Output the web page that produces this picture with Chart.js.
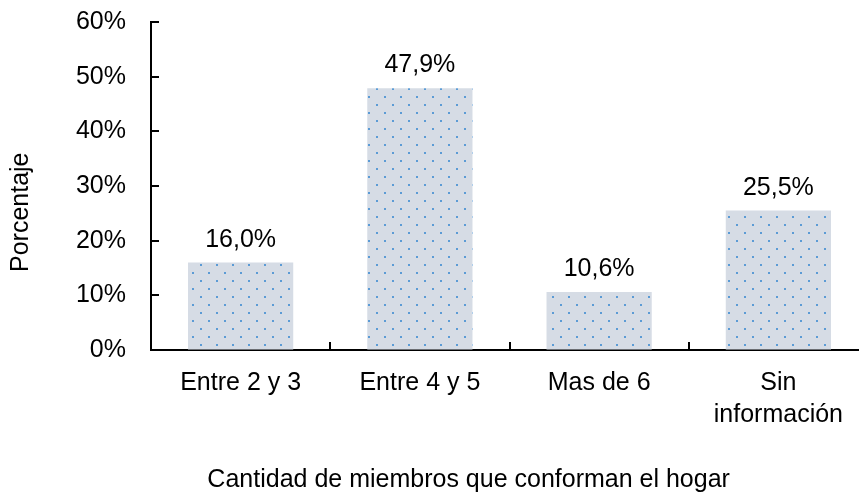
<!DOCTYPE html>
<html>
<head>
<meta charset="utf-8">
<script src="https://cdn.jsdelivr.net/npm/chart.js@4.4.1/dist/chart.umd.min.js"></script>
<style>
  html, body { margin: 0; padding: 0; background: #fff; overflow: hidden; }
  #wrap { width: 869px; height: 492px; }
</style>
</head>
<body>
<div id="wrap"><canvas id="household-chart"></canvas></div>
<script>
const categories = ['Entre 2 y 3', 'Entre 4 y 5', 'Mas de 6', ['Sin', 'información']];
const percentages = [16.0, 47.9, 10.6, 25.5];
const yTicks = [0, 10, 20, 30, 40, 50, 60];
const xTitle = 'Cantidad de miembros que conforman el hogar';
const yTitle = 'Porcentaje';

const FONT = "'Liberation Sans', Arial, sans-serif";
const FONT_SIZE = 25;
const canvas = document.getElementById('household-chart');

// light grey-blue fill with a staggered grid of small blue dots
function dottedFill(ctx)
{
    const tile = document.createElement('canvas');
    tile.width = 16;
    tile.height = 16;
    const c = tile.getContext('2d');
    c.fillStyle = '#d6dce5';
    c.fillRect(0, 0, 16, 16);
    c.fillStyle = '#5b9bd5';
    c.fillRect(0, 0, 2, 2);
    c.fillRect(8, 8, 2, 2);
    return ctx.createPattern(tile, 'repeat');
}

// "47,9%" style labels above each bar
const valueLabels = {
    id: 'valueLabels',
    afterDatasetsDraw(chart) {
        const ctx = chart.ctx;
        const meta = chart.getDatasetMeta(0);
        ctx.save();
        ctx.font = FONT_SIZE + 'px ' + FONT;
        ctx.fillStyle = '#000';
        ctx.textAlign = 'center';
        ctx.textBaseline = 'alphabetic';
        meta.data.forEach((bar, i) => {
            ctx.fillText(percentages[i].toFixed(1).replace('.', ',') + '%', bar.x, bar.y - 16);
        });
        ctx.restore();
    }
};

// short tick marks pointing into the plot area
const innerTicks = {
    id: 'innerTicks',
    afterDraw(chart) {
        const { ctx, scales: { x, y } } = chart;
        ctx.save();
        ctx.strokeStyle = '#000';
        ctx.lineWidth = 2;
        ctx.beginPath();
        y.ticks.forEach(t => {
            const py = Math.round(y.getPixelForValue(t.value));
            ctx.moveTo(x.left, py);
            ctx.lineTo(x.left + 8, py);
        });
        for (let i = 1; i <= categories.length; i++) {
            const px = i < categories.length
                ? Math.round((x.getPixelForValue(i - 1) + x.getPixelForValue(i)) / 2)
                : x.right;
            ctx.moveTo(px, y.bottom);
            ctx.lineTo(px, y.bottom - 8);
        }
        ctx.stroke();
        ctx.restore();
    }
};

// both axis titles: category title under the figure, value title rotated on the left
const axisTitles = {
    id: 'axisTitles',
    afterDraw(chart) {
        const ctx = chart.ctx;
        const area = chart.chartArea;
        ctx.save();
        ctx.font = FONT_SIZE + 'px ' + FONT;
        ctx.fillStyle = '#000';
        ctx.textAlign = 'center';
        ctx.textBaseline = 'alphabetic';
        ctx.fillText(xTitle, area.left + (area.right - area.left) * 0.443, chart.height - 5);

        ctx.translate(21, area.top + (area.bottom - area.top) * 0.58);
        ctx.rotate(-Math.PI / 2);
        ctx.textBaseline = 'middle';
        ctx.fillText(yTitle, 0, 0);
        ctx.restore();
    }
};

new Chart(canvas, {
    type: 'bar',
    data: {
        labels: categories,
        datasets: [{
            label: yTitle,
            data: percentages,
            backgroundColor: dottedFill(canvas.getContext('2d')),
            borderWidth: 0,
            barPercentage: 0.587,
            categoryPercentage: 1
        }]
    },
    options: {
        responsive: true,
        maintainAspectRatio: false,
        animation: false,
        layout: {
            padding: { top: 22, right: 1, bottom: 0, left: 0 }
        },
        plugins: {
            legend: { display: false },
            tooltip: { enabled: false }
        },
        scales: {
            x: {
                afterFit: (scale) => { scale.height = 142; },
                grid: { display: false, drawTicks: false },
                border: { display: true, color: '#000', width: 2 },
                ticks: {
                    color: '#000',
                    padding: 17,
                    maxRotation: 0,
                    font: { family: FONT, size: FONT_SIZE, lineHeight: 1.28 }
                }
            },
            y: {
                min: 0,
                max: 60,
                afterFit: (scale) => { scale.width = 151; },
                afterBuildTicks: (scale) => { scale.ticks = yTicks.map(v => ({ value: v })); },
                // transparent outer ticks only reserve the gap between labels and axis
                grid: { drawOnChartArea: false, drawTicks: true, tickLength: 25, color: 'transparent' },
                border: { display: true, color: '#000', width: 2 },
                ticks: {
                    color: '#000',
                    padding: 0,
                    font: { family: FONT, size: FONT_SIZE },
                    callback: (v) => v + '%'
                }
            }
        }
    },
    plugins: [valueLabels, innerTicks, axisTitles]
});
</script>
</body>
</html>
